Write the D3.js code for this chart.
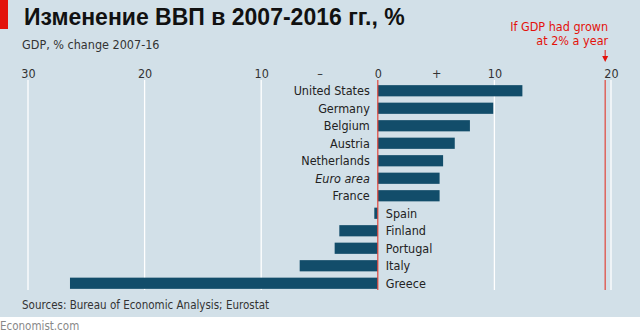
<!DOCTYPE html>
<html>
<head>
<meta charset="utf-8">
<script src="https://cdn.jsdelivr.net/npm/d3@7"></script>
<style>
  body { margin: 0; background: #fff; }
  svg { display: block; }
  .cond { font-family: "Liberation Sans Narrow", "DejaVu Sans Condensed", "Roboto", sans-serif; }
</style>
</head>
<body>
<div id="chart"></div>
<script>
// datos
var countries = ["United States", "Germany", "Belgium", "Austria", "Netherlands", "Euro area", "France",
                 "Spain", "Finland", "Portugal", "Italy", "Greece"];
var gdpChange = [12.4, 9.9, 7.9, 6.6, 5.6, 5.3, 5.3, -0.3, -3.3, -3.7, -6.7, -26.4];
var tickValues = [-30, -20, -10, -5, 0, 5, 10, 20];
var tickLabels = ["30", "20", "10", "–", "0", "+", "10", "20"];
var gridValues = [-30, -20, -10, 10, 20];
var trendValue = [19.5];

var W = 640, H = 336;
var svg = d3.select("#chart").append("svg")
  .attr("width", W).attr("height", H);

// fondo
svg.append("rect").attr("x", 0).attr("y", 0).attr("width", W).attr("height", 317).attr("fill", "#d2e0e8");
svg.append("rect").attr("x", 0).attr("y", 0).attr("width", 8).attr("height", 29).attr("fill", "#e3120b");

// titulo
svg.append("text")
  .attr("x", 24).attr("y", 25)
  .attr("font-family", "Liberation Sans, Arial, sans-serif")
  .attr("font-weight", "bold")
  .attr("font-size", 23)
  .attr("fill", "#111")
  .text("Изменение ВВП в 2007-2016 гг., %");

svg.append("text").attr("class", "cond")
  .attr("x", 22).attr("y", 49)
  .attr("font-size", 12.5).attr("fill", "#333")
  .text("GDP, % change 2007-16");

// escalas
var x = d3.scaleLinear().domain([-30, 20]).range([28, 611]);
var y = d3.scaleBand().domain(countries).range([82, 292]).paddingInner(0.36).paddingOuter(0.18);

var gTop = 80, gBottom = 290;

// rejilla
svg.selectAll(".grid").data(gridValues).enter().append("line")
  .attr("x1", function(d) { return x(d); }).attr("x2", function(d) { return x(d); })
  .attr("y1", gTop).attr("y2", gBottom)
  .attr("stroke", "#fff").attr("stroke-width", 1.3);

// eje superior
var axis = svg.append("g")
  .attr("class", "cond")
  .attr("transform", "translate(0,79)")
  .call(d3.axisTop(x).tickValues(tickValues).tickSize(0).tickPadding(0)
    .tickFormat(function(d, i) { return tickLabels[i]; }));
axis.select(".domain").remove();
axis.selectAll("text")
  .attr("font-family", "Liberation Sans Narrow, DejaVu Sans Condensed, sans-serif")
  .attr("font-size", 12.5).attr("fill", "#333").attr("dy", "-0.1em");

// barras
svg.selectAll(".bar").data(gdpChange).enter().append("rect")
  .attr("x", function(d) { return x(Math.min(0, d)); })
  .attr("y", function(d, i) { return y(countries[i]); })
  .attr("width", function(d) { return Math.abs(x(d) - x(0)); })
  .attr("height", y.bandwidth())
  .attr("fill", "#124d6a");

// etiquetas
svg.selectAll(".lbl").data(gdpChange).enter().append("text")
  .attr("class", "cond")
  .attr("x", function(d) { return d >= 0 ? x(0) - 8 : x(0) + 8; })
  .attr("y", function(d, i) { return y(countries[i]) + y.bandwidth() / 2; })
  .attr("dy", "0.36em")
  .attr("text-anchor", function(d) { return d >= 0 ? "end" : "start"; })
  .attr("font-size", 12.5).attr("fill", "#222")
  .attr("font-style", function(d, i) { return countries[i] === "Euro area" ? "italic" : "normal"; })
  .text(function(d, i) { return countries[i]; });

// linea cero
svg.append("line")
  .attr("x1", x(0)).attr("x2", x(0)).attr("y1", gTop).attr("y2", gBottom)
  .attr("stroke", "#e0453a").attr("stroke-width", 1.2);

// linea 2% anual
svg.selectAll(".trend").data(trendValue).enter().append("line")
  .attr("x1", function(d) { return x(d); }).attr("x2", function(d) { return x(d); })
  .attr("y1", gTop).attr("y2", gBottom)
  .attr("stroke", "#e0453a").attr("stroke-width", 1.2);

var tx = x(trendValue[0]);
svg.append("path")
  .attr("d", "M" + tx + ",50 L" + tx + ",57")
  .attr("stroke", "#e3120b").attr("stroke-width", 1);
svg.append("path")
  .attr("d", "M" + (tx - 3) + ",56 L" + (tx + 3) + ",56 L" + tx + ",62 Z")
  .attr("fill", "#e3120b");

svg.append("text").attr("class", "cond")
  .attr("x", tx + 3).attr("y", 31)
  .attr("text-anchor", "end").attr("font-size", 12.5).attr("fill", "#e3120b")
  .text("If GDP had grown");
svg.append("text").attr("class", "cond")
  .attr("x", tx + 3).attr("y", 45)
  .attr("text-anchor", "end").attr("font-size", 12.5).attr("fill", "#e3120b")
  .text("at 2% a year");

// fuentes
svg.append("text").attr("class", "cond")
  .attr("x", 22).attr("y", 309)
  .attr("font-size", 11.5).attr("fill", "#333")
  .text("Sources: Bureau of Economic Analysis; Eurostat");

svg.append("text").attr("class", "cond")
  .attr("x", 0).attr("y", 330)
  .attr("font-size", 11.5).attr("fill", "#888")
  .text("Economist.com");
</script>
</body>
</html>
